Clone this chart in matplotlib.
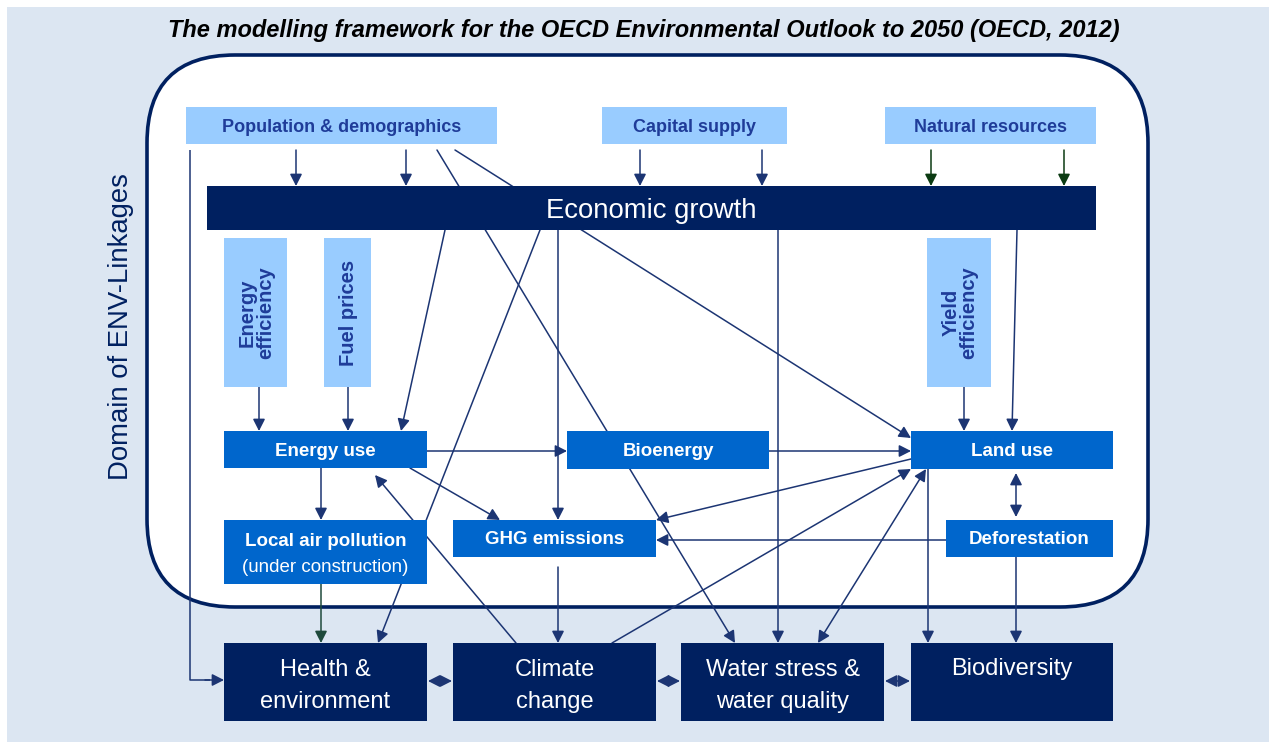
"""
OECD Environmental Outlook to 2050 - modelling framework diagram.
"""

import matplotlib
matplotlib.use("Agg")
import matplotlib.pyplot as plt
from matplotlib.patches import FancyBboxPatch, Rectangle


W, H = 1269, 742

NAVY = "#002060"
MID = "#0066CC"
LIGHT = "#99CCFF"
BG = "#DCE6F2"
DRIVER_TXT = "#1F3C99"
LINE = "#1C3573"
GREEN = "#0B3B12"

SANS = ["Liberation Sans", "DejaVu Sans"]

# ---------------------------------------------------------------------------
# Text content
# ---------------------------------------------------------------------------

TITLE = "The modelling framework for the OECD Environmental Outlook to 2050 (OECD, 2012)"
DOMAIN = "Domain of ENV-Linkages"
CORE = "Economic growth"
drivers = ["Population & demographics", "Capital supply", "Natural resources"]
side_drivers = ["Energy\nefficiency", "Fuel prices", "Yield\nefficiency"]
sectors = ["Energy use", "Bioenergy", "Land use", "GHG emissions", "Deforestation"]
lap_label = ["Local air pollution", "(under construction)"]
impacts = ["Health &\nenvironment", "Climate\nchange", "Water stress &\nwater quality", "Biodiversity"]

# ---------------------------------------------------------------------------
# Layout (pixel boxes: x0, y0, x1, y1)
# ---------------------------------------------------------------------------

driver_boxes = [(186, 107, 497, 144), (602, 107, 787, 144), (885, 107, 1096, 144)]
core_box = (207, 186, 1096, 230)
side_boxes = [(224, 238, 287, 387), (324, 238, 371, 387), (927, 238, 991, 387)]
sector_boxes = [(224, 431, 427, 468), (567, 431, 769, 469), (911, 431, 1113, 469),
                (453, 520, 656, 557), (946, 520, 1113, 557)]
lap_box = (224, 520, 427, 584)
impact_boxes = [(224, 643, 427, 721), (453, 643, 656, 721),
                (681, 643, 884, 721), (911, 643, 1113, 721)]

fig = plt.figure(figsize=(W / 100, H / 100), dpi=100)
ax = fig.add_axes([0, 0, 1, 1])
ax.set_xlim(0, W)
ax.set_ylim(H, 0)
ax.axis("off")

ax.add_patch(Rectangle((7, 7), W - 7, H - 7, facecolor=BG, edgecolor="none", zorder=0))
ax.add_patch(FancyBboxPatch((147, 55), 1001, 552, boxstyle="round,pad=0,rounding_size=88",
                            facecolor="white", edgecolor=NAVY, lw=2.6, zorder=1))

ax.text(644, 31, TITLE, ha="center", va="center", fontsize=17, fontweight="bold",
        fontstyle="italic", family=SANS, color="black")
ax.text(121, 327, DOMAIN, ha="center", va="center", rotation=90, fontsize=19.8,
        family=SANS, color=NAVY)


def box(b, fc, z=3):
    x0, y0, x1, y1 = b
    ax.add_patch(Rectangle((x0, y0), x1 - x0, y1 - y0, facecolor=fc, edgecolor="none", zorder=z))
    return (x0 + x1) / 2, (y0 + y1) / 2


def arrow(p0, p1, color=LINE, style="-|>", lw=1.1):
    ax.annotate("", xy=p1, xytext=p0, zorder=2,
                arrowprops=dict(arrowstyle=f"{style},head_length=0.55,head_width=0.28",
                                color=color, lw=lw, shrinkA=0, shrinkB=0,
                                mutation_scale=13))


def line(pts, color=LINE, lw=1.1):
    xs, ys = zip(*pts)
    ax.plot(xs, ys, color=color, lw=lw, zorder=2, solid_capstyle="butt")


# boxes and labels
for lab, b in zip(drivers, driver_boxes):
    cx, cy = box(b, LIGHT)
    ax.text(cx, cy + 2, lab, ha="center", va="center", fontsize=13, fontweight="bold",
            family=SANS, color=DRIVER_TXT, zorder=4)

cx, cy = box(core_box, NAVY)
ax.text(cx, cy + 3, CORE, ha="center", va="center", fontsize=19.8, family=SANS,
        color="white", zorder=4)

for lab, b in zip(side_drivers, side_boxes):
    cx, cy = box(b, LIGHT)
    ax.text(cx + 1, cy, lab, ha="center", va="center", rotation=90, fontsize=14.5,
            fontweight="bold", family=SANS, color=DRIVER_TXT, zorder=4, linespacing=0.95)

for lab, b in zip(sectors, sector_boxes):
    cx, cy = box(b, MID)
    ax.text(cx, cy + 1.5, lab, ha="center", va="center", fontsize=13.5, fontweight="bold",
            family=SANS, color="white", zorder=4)

cx, cy = box(lap_box, MID)
ax.text(cx, 541, lap_label[0], ha="center", va="center", fontsize=13.5, fontweight="bold",
        family=SANS, color="white", zorder=4)
ax.text(cx, 568, lap_label[1], ha="center", va="center", fontsize=13.5,
        family=SANS, color="white", zorder=4)

for lab, b in zip(impacts, impact_boxes):
    cx, cy = box(b, NAVY)
    if "\n" in lab:
        ax.text(cx, cy + 4, lab, ha="center", va="center", fontsize=17, family=SANS,
                color="white", zorder=4, linespacing=1.6)
    else:
        ax.text(cx, 669, lab, ha="center", va="center", fontsize=17, family=SANS,
                color="white", zorder=4)

# ---------------------------------------------------------------------------
# Connections
# ---------------------------------------------------------------------------

top = core_box[1]
bot = core_box[3]
# drivers -> economic growth
for x in (296, 406, 640, 762):
    arrow((x, 150), (x, top))
for x in (931, 1064):
    arrow((x, 150), (x, top), color=GREEN)

# population -> health (elbow)
line([(190, 150), (190, 680), (210, 680)])
arrow((205, 680), (224, 680))
# population -> land use, population -> water stress (behind boxes)
arrow((455, 150), (911, 438))
arrow((437, 150), (735, 643))

# economic growth -> sectors / impacts
arrow((445, bot), (401, 431))
arrow((540, bot), (378, 643))
arrow((558, bot), (558, 520))
arrow((778, bot), (778, 643))
arrow((1017, bot), (1012, 431))

# side drivers
arrow((259, 387), (259, 431))
arrow((348, 387), (348, 431))
arrow((964, 387), (964, 431))

# sector links
arrow((427, 451), (567, 451))
arrow((769, 451), (911, 451))
arrow((321, 468), (321, 520))
arrow((410, 468), (500, 520))
arrow((911, 459), (656, 520))
arrow((946, 540), (656, 540))
arrow((1016, 473), (1016, 517), style="<|-|>")
arrow((928, 469), (928, 643))
arrow((1016, 557), (1016, 643))
arrow((558, 567), (558, 643))
arrow((321, 584), (321, 643), color="#1F4A3C")

# impacts feeding back
arrow((516, 643), (375, 475))
arrow((612, 643), (911, 469))
arrow((818, 643), (926, 469), style="<|-|>")

# impacts linked together
for a, b in zip(impact_boxes[:-1], impact_boxes[1:]):
    arrow((a[2] + 1, 681), (b[0] - 1, 681), style="<|-|>")

fig.savefig("out.png", dpi=100)
